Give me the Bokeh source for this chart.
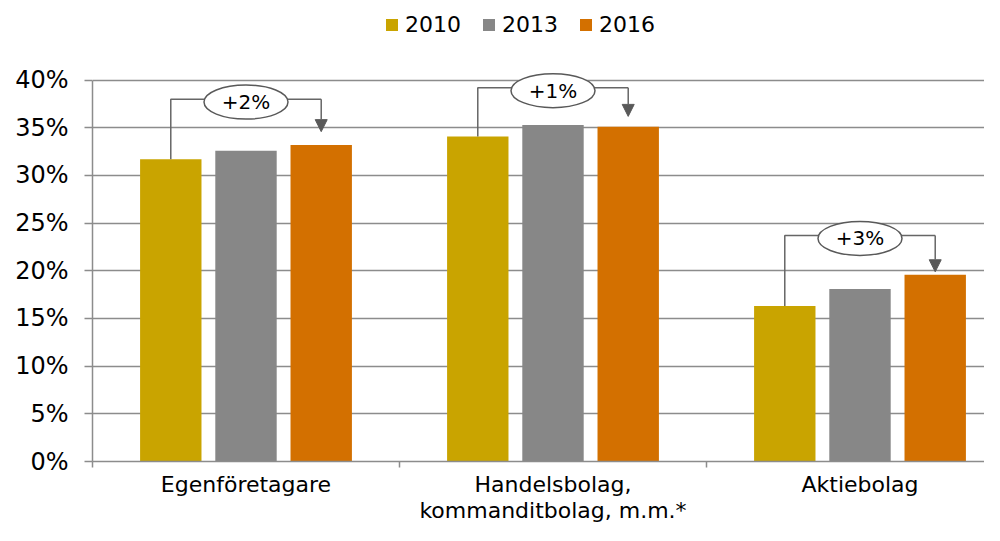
from bokeh.plotting import figure
from bokeh.models import (ColumnDataSource, Range1d, FixedTicker, NumeralTickFormatter,
                          Legend, LegendItem, Arrow, NormalHead)
from bokeh.core.properties import value
from bokeh.embed import file_html
from bokeh.resources import INLINE

# ---- data ----
categories = ["Egenföretagare", "Handelsbolag,\nkommanditbolag, m.m.*", "Aktiebolag"]
years = ["2010", "2013", "2016"]
v2010 = [0.317, 0.341, 0.163]
v2013 = [0.326, 0.353, 0.181]
v2016 = [0.332, 0.351, 0.196]
change_labels = ["+2%", "+1%", "+3%"]
bracket_top = [0.380, 0.392, 0.237]
arrow_tip = [0.346, 0.362, 0.199]
y_ticks = [0.0, 0.05, 0.10, 0.15, 0.20, 0.25, 0.30, 0.35, 0.40]

# ---- style ----
FONT = "DejaVu Sans"
colors = ["#C9A400", "#878787", "#D37000"]
GRID = "#8C8C8C"
ANN = "#666666"
CAT_PX = 307.0
W, H = 984, 525
LEFT = 92
BOTTOM = 62
FRAME_W = W - LEFT
FRAME_H = H - BOTTOM          # frame reaches the top edge; legend sits inside it
PLOT_TOP_PX = 80              # where the 40% line sits
Y_MAX = max(y_ticks)
y_end = Y_MAX * FRAME_H / (FRAME_H - PLOT_TOP_PX)

p = figure(width=W, height=H, output_backend="svg", toolbar_location=None, title=None,
           x_range=Range1d(0, FRAME_W / CAT_PX), y_range=Range1d(0, y_end),
           min_border_left=LEFT, min_border_right=0, min_border_top=0, min_border_bottom=BOTTOM)
p.outline_line_color = None
p.background_fill_color = "white"
p.border_fill_color = "white"

offsets = [-0.245, 0.0, 0.245]
n = len(categories)
renderers = []
for vals, col, off in zip([v2010, v2013, v2016], colors, offsets):
    src = ColumnDataSource(dict(x=[i + 0.5 + off for i in range(n)], top=vals))
    r = p.vbar(x="x", top="top", bottom=0, width=0.2, source=src,
               fill_color=col, line_color=None)
    renderers.append(r)

# grid / axes
p.xgrid.visible = False
p.ygrid.ticker = FixedTicker(ticks=y_ticks)
p.ygrid.grid_line_color = GRID
p.ygrid.grid_line_width = 1.5

p.yaxis.ticker = FixedTicker(ticks=y_ticks)
p.yaxis.bounds = (0, Y_MAX)
p.yaxis.formatter = NumeralTickFormatter(format="0%")
p.yaxis.axis_line_color = GRID
p.yaxis.axis_line_width = 1.5
p.yaxis.major_tick_line_color = GRID
p.yaxis.major_tick_line_width = 1.5
p.yaxis.major_tick_out = 8
p.yaxis.major_tick_in = 0
p.yaxis.minor_tick_line_color = None
p.yaxis.major_label_text_font = FONT
p.yaxis.major_label_text_font_size = "24px"
p.yaxis.major_label_text_color = "black"
p.yaxis.major_label_standoff = 16

p.xaxis.ticker = FixedTicker(ticks=[i + 0.5 for i in range(n)],
                             minor_ticks=[float(i) for i in range(n + 1)])
p.xaxis.major_label_overrides = {i + 0.5: c for i, c in enumerate(categories)}
p.xaxis.axis_line_color = GRID
p.xaxis.axis_line_width = 1.5
p.xaxis.major_tick_line_color = None
p.xaxis.major_tick_out = 0
p.xaxis.major_tick_in = 0
p.xaxis.minor_tick_line_color = GRID
p.xaxis.minor_tick_line_width = 1.5
p.xaxis.minor_tick_out = 6
p.xaxis.minor_tick_in = 0
p.xaxis.major_label_text_font = FONT
p.xaxis.major_label_text_font_size = "22px"
p.xaxis.major_label_text_color = "black"
p.xaxis.major_label_text_line_height = 1.05
p.xaxis.major_label_standoff = 4

# annotations: brackets, arrows, ellipses, labels
xl = [i + 0.5 + offsets[0] for i in range(n)]
xr = [i + 0.5 + offsets[2] for i in range(n)]
xc = [i + 0.5 for i in range(n)]
p.multi_line(xs=[[a, a, b] for a, b in zip(xl, xr)],
             ys=[[v, t, t] for v, t in zip(v2010, bracket_top)],
             line_color=ANN, line_width=1.5)
arrow_src = ColumnDataSource(dict(x=xr, y0=bracket_top, y1=arrow_tip))
p.add_layout(Arrow(end=NormalHead(size=12, fill_color="#595959", line_color="#595959"),
                   x_start="x", y_start="y0", x_end="x", y_end="y1", source=arrow_src,
                   line_color=ANN, line_width=1.5))
ell_y = [t - 0.003 for t in bracket_top]
p.ellipse(x=xc, y=ell_y, width=84, height=34, width_units="screen", height_units="screen",
          fill_color="white", line_color="#595959", line_width=1.5)
p.text(x=xc, y=ell_y, text=change_labels, text_align="center", text_baseline="middle",
       text_font=value(FONT), text_font_size="20px", text_color="black")

legend = Legend(items=[LegendItem(label=y, renderers=[r]) for y, r in zip(years, renderers)],
                orientation="horizontal", location=(292, FRAME_H - 39), padding=0, margin=0,
                spacing=20, glyph_width=15, glyph_height=15, label_standoff=6,
                label_text_font=FONT, label_text_font_size="22px", label_text_color="black",
                border_line_color=None, background_fill_alpha=0)
p.add_layout(legend, "center")

open("out.html", "w").write(file_html(p, INLINE))
